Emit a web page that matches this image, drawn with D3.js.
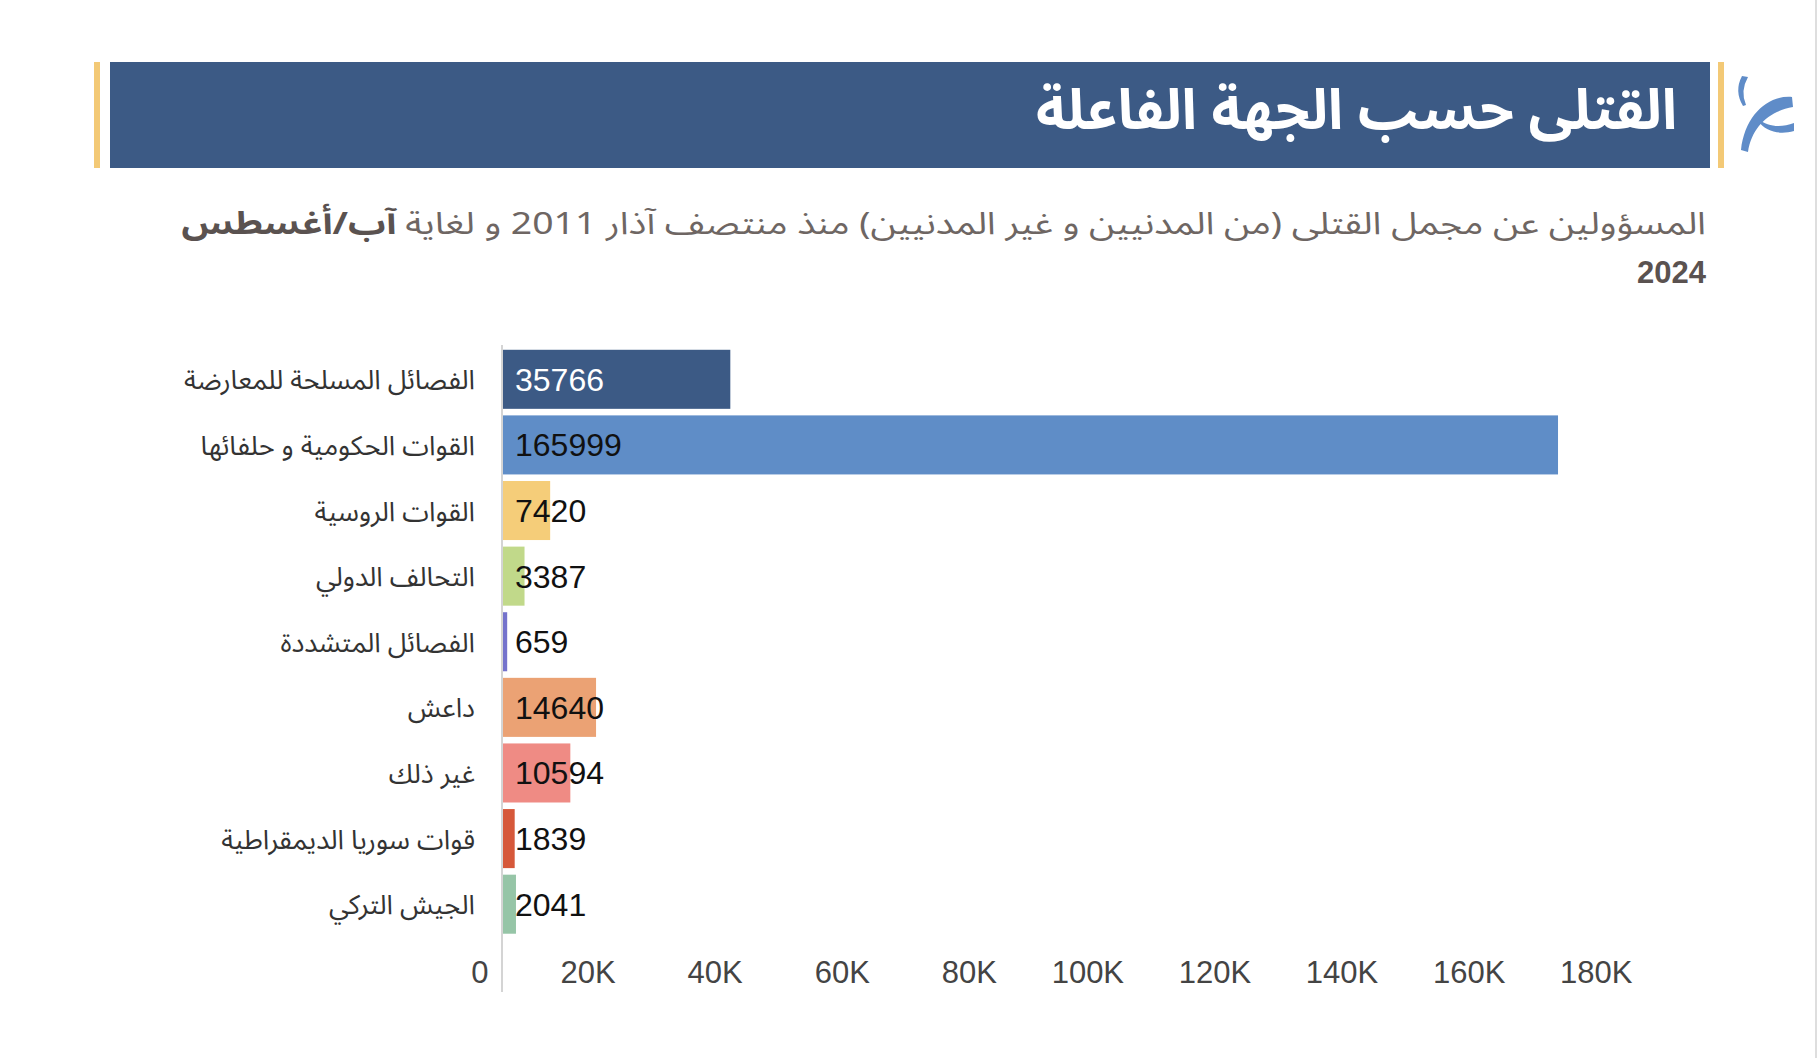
<!DOCTYPE html>
<html lang="ar">
<head>
<meta charset="utf-8">
<script src="https://cdn.jsdelivr.net/npm/d3@7/dist/d3.min.js"></script>
<style>
  html, body { margin: 0; padding: 0; background: #ffffff; }
  svg { display: block; }
</style>
</head>
<body>
<svg id="chart" width="1820" height="1058"></svg>
<script>
// ---- data ----
const categories = [
  "الفصائل المسلحة للمعارضة",
  "القوات الحكومية و حلفائها",
  "القوات الروسية",
  "التحالف الدولي",
  "الفصائل المتشددة",
  "داعش",
  "غير ذلك",
  "قوات سوريا الديمقراطية",
  "الجيش التركي"
];
const values = [35766, 165999, 7420, 3387, 659, 14640, 10594, 1839, 2041];
const barColors = ["#3c5a85", "#5f8dc7", "#f5cd79", "#c1d98a", "#7473cc", "#eba274", "#ef8b84", "#d6583a", "#96c5a7"];
const tickValues = [0, 20000, 40000, 60000, 80000, 100000, 120000, 140000, 160000, 180000];
const tickLabels = ["0", "20K", "40K", "60K", "80K", "100K", "120K", "140K", "160K", "180K"];
const titleText = "القتلى حسب الجهة الفاعلة";
const subtitleNormal = "المسؤولين عن مجمل القتلى (من المدنيين و غير المدنيين) منذ منتصف آذار 2011 و لغاية";
const subtitleBold = "آب/أغسطس";
const subtitleLine2 = "2024";

const arabicFont = "'Noto Sans Arabic', 'Noto Kufi Arabic', 'DejaVu Sans', sans-serif";
const latinFont = "'Liberation Sans', Arial, Helvetica, sans-serif";

const svg = d3.select("#chart");

// right page border
svg.append("line").attr("x1", 1816).attr("x2", 1816).attr("y1", 0).attr("y2", 1058)
  .attr("stroke", "#dedede").attr("stroke-width", 2);

// ---- header ----
svg.append("rect").attr("x", 94).attr("y", 62).attr("width", 6).attr("height", 106).attr("fill", "#f3c976");
svg.append("rect").attr("x", 110).attr("y", 62).attr("width", 1600).attr("height", 106).attr("fill", "#3c5a85");
svg.append("rect").attr("x", 1718).attr("y", 62).attr("width", 6).attr("height", 106).attr("fill", "#f3c976");

svg.append("text")
  .attr("x", 1677).attr("y", 129)
  .attr("text-anchor", "end")
  .attr("font-family", arabicFont)
  .attr("font-weight", "bold")
  .attr("font-size", 56)
  .attr("fill", "#ffffff")
  .text(titleText);

// logo
const logo = svg.append("g").attr("fill", "#5f8cc8");
logo.append("path").attr("d", "M1742,76 Q1734,91 1743,106 L1746,105 Q1740,91 1748,77 Z");
logo.append("path").attr("d", "M1792,97 C1768,95 1745,115 1741,150 L1748,152 C1752,126 1770,111 1793,107 Z");
logo.append("path").attr("d", "M1758,119 C1768,127 1781,128 1794,123 L1794,131 C1780,135 1766,132 1758,121 Z");

// subtitle line 1: normal part, then bold part to its left
const subScale = 1.205;
const subRight = 1706;
const sub1 = svg.append("text")
  .attr("x", subRight).attr("y", 234)
  .attr("transform", `translate(${subRight},0) scale(${subScale},1) translate(${-subRight},0)`)
  .attr("text-anchor", "end")
  .attr("font-family", arabicFont)
  .attr("font-size", 31)
  .attr("fill", "#6e6663")
  .text(subtitleNormal);
const w1 = sub1.node().getComputedTextLength() * subScale;
const boldRight = subRight - w1 - 9;
svg.append("text")
  .attr("x", boldRight).attr("y", 234)
  .attr("transform", `translate(${boldRight},0) scale(${subScale},1) translate(${-boldRight},0)`)
  .attr("text-anchor", "end")
  .attr("font-family", arabicFont)
  .attr("font-weight", "bold")
  .attr("font-size", 31)
  .attr("fill", "#5a5250")
  .text(subtitleBold);

// subtitle line 2
svg.append("text")
  .attr("x", subRight).attr("y", 283)
  .attr("text-anchor", "end")
  .attr("font-family", latinFont)
  .attr("font-weight", "bold")
  .attr("font-size", 31)
  .attr("fill", "#5a5250")
  .text(subtitleLine2);

// ---- chart ----
const x = d3.scaleLinear().domain([0, 180000]).range([503, 1647]);
const y = d3.scaleBand().domain(categories).range([346.5, 937]).paddingInner(0.1).paddingOuter(0.05);

const rows = categories.map((c, i) => ({ cat: c, val: values[i], color: barColors[i], i }));

svg.append("g").selectAll("rect").data(rows).join("rect")
  .attr("x", x(0))
  .attr("y", d => y(d.cat))
  .attr("width", d => x(d.val) - x(0))
  .attr("height", y.bandwidth())
  .attr("fill", d => d.color);

// vertical baseline
svg.append("line").attr("x1", 502).attr("x2", 502).attr("y1", 345).attr("y2", 992)
  .attr("stroke", "#d4d4d4").attr("stroke-width", 2);

// value labels
svg.append("g").selectAll("text").data(rows).join("text")
  .attr("x", x(0) + 12)
  .attr("y", d => y(d.cat) + y.bandwidth() / 2 + 11.5)
  .attr("font-family", latinFont)
  .attr("font-size", 32)
  .attr("fill", d => d.i === 0 ? "#ffffff" : "#111111")
  .text(d => d.val);

// category labels
svg.append("g").selectAll("text").data(rows).join("text")
  .attr("x", 475)
  .attr("y", d => y(d.cat) + y.bandwidth() / 2 + 10)
  .attr("text-anchor", "end")
  .attr("font-family", arabicFont)
  .attr("font-size", 27)
  .attr("fill", "#333333")
  .text(d => d.cat);

// x axis
const xAxis = d3.axisBottom(x)
  .tickValues(tickValues)
  .tickFormat((d, i) => tickLabels[i])
  .tickSize(0)
  .tickPadding(10);
const gx = svg.append("g").attr("transform", "translate(0,951)").call(xAxis);
gx.select(".domain").remove();
gx.selectAll("text")
  .attr("text-anchor", "end")
  .attr("dx", -15)
  .attr("font-family", latinFont)
  .attr("font-size", 31)
  .attr("fill", "#444444");
</script>
</body>
</html>
